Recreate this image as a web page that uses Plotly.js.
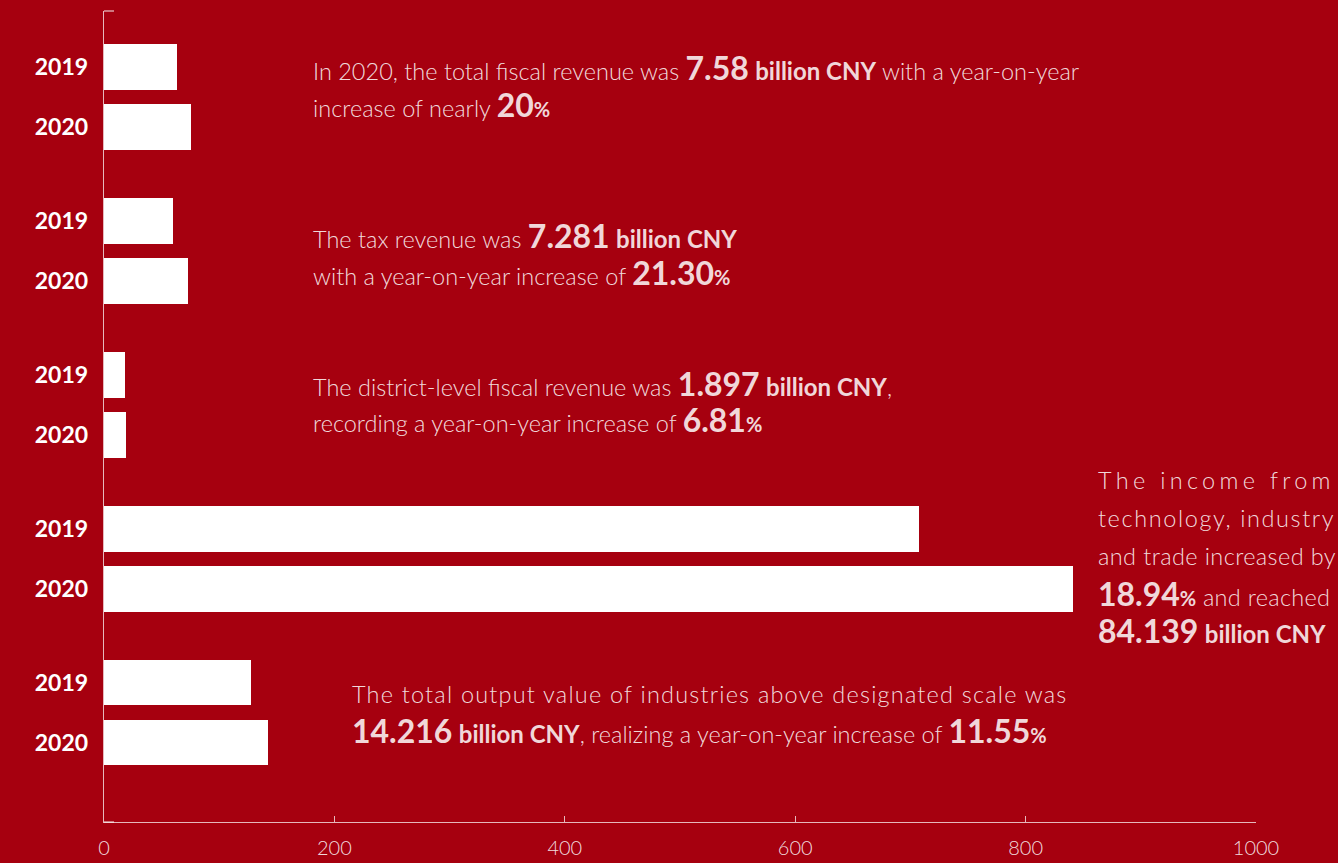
<!DOCTYPE html>
<html>
<head>
<meta charset="utf-8">
<script src="https://cdn.plot.ly/plotly-3.0.1.min.js"></script>
<style>html,body{margin:0;padding:0;background:#a6000f;}#chart{width:1338px;height:863px;}</style>
</head>
<body>
<div id="chart"></div>
<script>
// ---- data ----
const groups = ["Total fiscal revenue", "Tax revenue", "District-level fiscal revenue", "Technology, industry and trade income", "Industrial output above designated scale"];
const years = ["2019", "2020"];
const values2019 = [63.2, 60.0, 17.8, 707.4, 127.4];
const values2020 = [75.8, 72.81, 18.97, 841.39, 142.16];
const xTicks = [0, 200, 400, 600, 800, 1000];

// ---- styling ----
const BG = "#a6000f";
const LINE = "rgba(255,255,255,0.72)";
const TXT = "rgba(255,255,255,0.86)";
const FONT = "Lato, 'Source Sans Pro', 'Noto Sans', sans-serif";
const offsets = [-0.195, 0.195];
const barW = 0.297;

const series = [values2019, values2020];
const traces = series.map((vals, yi) => ({
  type: "bar",
  orientation: "h",
  name: years[yi],
  x: vals,
  y: groups.map((g, gi) => gi + offsets[yi]),
  width: barW,
  marker: {color: "#ffffff", line: {width: 0}},
  hoverinfo: "x+name"
}));

const tickvals = [], ticktext = [];
groups.forEach((g, gi) => years.forEach((yr, yi) => { tickvals.push(gi + offsets[yi]); ticktext.push(yr); }));

// pixel helpers for text placement
const L = 104, R = 82, T = 11, B = 41, W = 1338, H = 863;
const px = v => (v - L) / (W - L - R);
const py = v => (H - B - v) / (H - T - B);

const big = t => `<span style="font-size:32px;font-weight:700;color:#ffffff">${t}</span>`;
const bold = t => `<span style="font-size:24px;font-weight:700;color:#ffffff">${t}</span>`;
const pct = `<span style="font-size:20px;font-weight:700;color:#ffffff">%</span>`;
const sp = (t, s) => `<span style="letter-spacing:${s}px">${t}</span>`;

const noteLines = [
  {x: 311, y: 67, t: `In 2020, the total fiscal revenue was ${big("7.58")} ${bold("billion CNY")} with a year-on-year`},
  {x: 311, y: 104, t: `increase of nearly ${big("20")}${pct}`},
  {x: 311, y: 235, t: `The tax revenue was ${big("7.281")} ${bold("billion CNY")}`},
  {x: 311, y: 272, t: `with a year-on-year increase of ${big("21.30")}${pct}`},
  {x: 311, y: 383, t: `The district-level fiscal revenue was ${big("1.897")} ${bold("billion CNY")},`},
  {x: 311, y: 420, t: `recording a year-on-year increase of ${big("6.81")}${pct}`},
  {x: 1096, y: 480, t: sp("The income from", 4.3)},
  {x: 1096, y: 518, t: sp("technology, industry", 1.6)},
  {x: 1096, y: 556, t: sp("and trade increased by", 0.4)},
  {x: 1096, y: 593, t: `${big("18.94")}${pct}${sp(" and reached", 0.3)}`},
  {x: 1096, y: 630, t: `${big("84.139")} ${bold("billion CNY")}`},
  {x: 350, y: 694, t: sp("The total output value of industries above designated scale was", 1.2)},
  {x: 350, y: 730, t: `${big("14.216")} ${bold("billion CNY")}, realizing a year-on-year increase of ${big("11.55")}${pct}`}
];

const annotations = noteLines.map(n => ({
  xref: "paper", yref: "paper", x: px(n.x), y: py(n.y),
  xanchor: "left", yanchor: "middle", align: "left",
  showarrow: false, text: n.t,
  font: {family: FONT, size: 23.5, color: TXT, weight: 300}
}));

const shapes = [
  {type: "line", xref: "paper", yref: "paper", x0: 0, x1: px(114), y0: 1, y1: 1, line: {color: LINE, width: 1.3}},
  {type: "line", xref: "paper", yref: "paper", x0: 0, x1: px(114), y0: 0, y1: 0, line: {color: LINE, width: 1.3}}
];

const layout = {
  width: W, height: H,
  margin: {l: L, r: R, t: T, b: B, pad: 0},
  paper_bgcolor: BG, plot_bgcolor: BG,
  showlegend: false,
  bargap: 0,
  font: {family: FONT, color: TXT},
  xaxis: {
    range: [0, 1000], tickvals: xTicks, ticktext: xTicks.map(String),
    showgrid: false, zeroline: false, showline: true, linecolor: LINE, linewidth: 1.3,
    ticks: "inside", ticklen: 6, tickwidth: 1.3, tickcolor: LINE,
    tickfont: {family: FONT, size: 20, color: TXT, weight: 300},
    ticklabelstandoff: 8, fixedrange: true
  },
  yaxis: {
    range: [4.711, -0.559], tickvals: tickvals, ticktext: ticktext,
    showgrid: false, zeroline: false, showline: true, linecolor: LINE, linewidth: 1.3,
    ticks: "outside", ticklen: 10, tickcolor: "rgba(0,0,0,0)",
    tickfont: {family: FONT, size: 23, color: "#ffffff", weight: 700},
    fixedrange: true
  },
  annotations: annotations,
  shapes: shapes
};

Plotly.newPlot("chart", traces, layout, {displayModeBar: false, staticPlot: true});
</script>
</body>
</html>
